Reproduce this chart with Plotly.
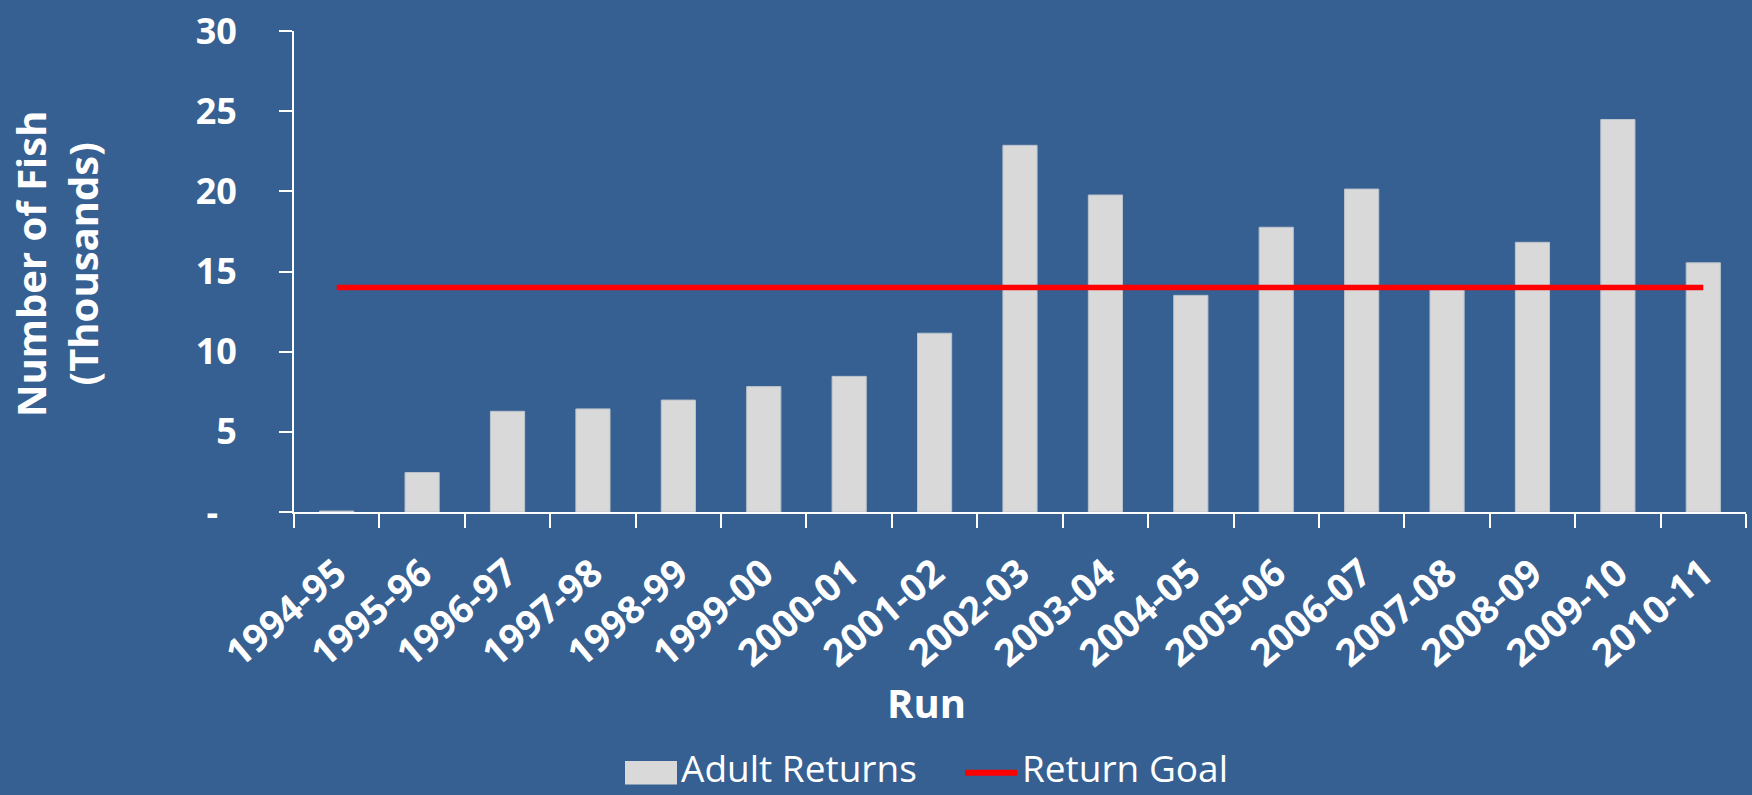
import plotly.graph_objects as go

# Run years (categories)
runs = [
    "1994-95", "1995-96", "1996-97", "1997-98", "1998-99", "1999-00",
    "2000-01", "2001-02", "2002-03", "2003-04", "2004-05", "2005-06",
    "2006-07", "2007-08", "2008-09", "2009-10", "2010-11",
]

# Adult returns, thousands of fish
adult_returns = [
    0.06, 2.46, 6.28, 6.43, 6.98, 7.82,
    8.46, 11.15, 22.87, 19.77, 13.51, 17.76,
    20.14, 13.86, 16.82, 24.48, 15.54,
]

# Return goal, thousands of fish
return_goal = [
    14, 14, 14, 14, 14, 14,
    14, 14, 14, 14, 14, 14,
    14, 14, 14, 14, 14,
]

y_tick_vals = [0, 5, 10, 15, 20, 25, 30]
y_tick_text = ["-\u00a0\u00a0", "5", "10", "15", "20", "25", "30"]

BG = "#366092"
BAR = "#D9D9D9"
GOAL = "#FF0000"
FONT = "Open Sans"

W, H = 1752, 795
PL, PR, PT, PB = 294, 1746, 25, 512  # plot area edges in pixels


def px_x(px):
    return (px - PL) / (PR - PL)


def px_y(py):
    return (PB - py) / (PB - PT)


fig = go.Figure()

fig.add_bar(
    x=runs,
    y=adult_returns,
    name="Adult Returns",
    marker=dict(color=BAR, line=dict(color="#BCC3CC", width=1)),
    showlegend=False,
)

fig.add_scatter(
    x=runs,
    y=return_goal,
    mode="lines",
    name="Return Goal",
    line=dict(color=GOAL, width=5.5),
    showlegend=False,
)

y_font = dict(family=FONT, size=36, color="white", weight="bold")
x_font = dict(family=FONT, size=38, color="white", weight="bold")

fig.update_layout(
    width=W,
    height=H,
    margin=dict(l=PL, r=W - PR, t=PT, b=H - PB),
    paper_bgcolor=BG,
    plot_bgcolor=BG,
    bargap=0.6,
    font=dict(family=FONT, color="white"),
    xaxis=dict(
        type="category",
        showline=True,
        linecolor="white",
        linewidth=2,
        ticks="outside",
        tickson="boundaries",
        ticklen=14,
        tickwidth=1.5,
        tickcolor="white",
        tickangle=-40,
        tickfont=x_font,
        ticklabelstandoff=22,
        showgrid=False,
        zeroline=False,
    ),
    yaxis=dict(
        range=[0, 30],
        tickvals=y_tick_vals,
        ticktext=y_tick_text,
        showline=True,
        linecolor="white",
        linewidth=2,
        ticks="outside",
        ticklen=13,
        tickwidth=1.5,
        tickcolor="white",
        tickfont=y_font,
        ticklabelstandoff=35,
        ticklabeloverflow="allow",
        showgrid=False,
        zeroline=False,
    ),
)

title_font = dict(family=FONT, size=40, color="white", weight="bold")
legend_font = dict(family=FONT, size=37, color="white")

annotations = [
    dict(
        text="Number of Fish<br>(Thousands)",
        textangle=-90,
        xref="paper", yref="paper",
        x=px_x(56), y=px_y(261),
        xanchor="center", yanchor="middle",
        showarrow=False,
        font=title_font,
    ),
    dict(
        text="Run",
        xref="paper", yref="paper",
        x=px_x(926), y=px_y(705),
        xanchor="center", yanchor="middle",
        showarrow=False,
        font=title_font,
    ),
    dict(
        text="Adult Returns",
        xref="paper", yref="paper",
        x=px_x(680), y=px_y(771),
        xanchor="left", yanchor="middle",
        borderpad=0,
        showarrow=False,
        font=legend_font,
    ),
    dict(
        text="Return Goal",
        xref="paper", yref="paper",
        x=px_x(1021), y=px_y(771),
        xanchor="left", yanchor="middle",
        borderpad=0,
        showarrow=False,
        font=legend_font,
    ),
]

shapes = [
    # legend swatch for the bars
    dict(
        type="rect", xref="paper", yref="paper",
        x0=px_x(625), x1=px_x(677), y0=px_y(788), y1=px_y(764),
        fillcolor=BAR, line=dict(width=0),
    ),
    # legend swatch for the goal line
    dict(
        type="line", xref="paper", yref="paper",
        x0=px_x(965), x1=px_x(1017), y0=px_y(776), y1=px_y(776),
        line=dict(color=GOAL, width=6),
    ),
]

fig.update_layout(annotations=annotations, shapes=shapes)

fig.write_html("out.html")
